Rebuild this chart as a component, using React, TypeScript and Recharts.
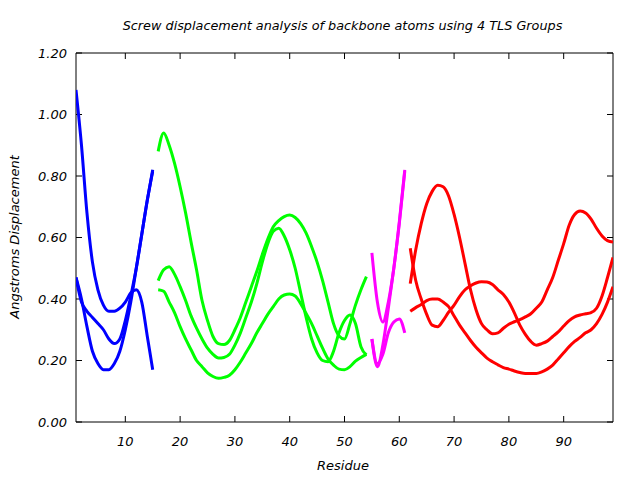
import { LineChart, Line, XAxis, YAxis, ReferenceArea, ReferenceLine } from 'recharts';

// TLS group 1 (blue), residues 1-15
const blueStart = 1;
const blueA = [1.08, 0.9, 0.68, 0.52, 0.43, 0.38, 0.36, 0.36, 0.37, 0.39, 0.42, 0.43, 0.39, 0.28, 0.17];
const blueB = [0.47, 0.4, 0.31, 0.23, 0.19, 0.17, 0.17, 0.19, 0.23, 0.3, 0.39, 0.5, 0.61, 0.72, 0.82];
const blueC = [0.47, 0.39, 0.36, 0.34, 0.32, 0.3, 0.27, 0.255, 0.27, 0.33, 0.41, 0.5, 0.61, 0.72, 0.815];

// TLS group 2 (green), residues 16-54
const greenStart = 16;
const greenA = [
  0.88, 0.94, 0.9, 0.84, 0.765, 0.68, 0.585, 0.495, 0.395, 0.33, 0.278, 0.255, 0.252, 0.265,
  0.3, 0.34, 0.39, 0.44, 0.49, 0.545, 0.595, 0.635, 0.655, 0.668, 0.673, 0.665, 0.645, 0.614,
  0.57, 0.52, 0.46, 0.39, 0.32, 0.28, 0.27, 0.32, 0.38, 0.43, 0.473,
];
const greenB = [
  0.46, 0.495, 0.505, 0.48, 0.44, 0.395, 0.345, 0.305, 0.27, 0.24, 0.22, 0.208, 0.21, 0.22,
  0.25, 0.29, 0.34, 0.39, 0.45, 0.52, 0.58, 0.62, 0.63, 0.605, 0.56, 0.5, 0.42, 0.34, 0.27,
  0.225, 0.2, 0.196, 0.23, 0.29, 0.33, 0.348, 0.32, 0.245, 0.218,
];
const greenC = [
  0.43, 0.425, 0.39, 0.355, 0.31, 0.27, 0.235, 0.2, 0.18, 0.16, 0.148, 0.142, 0.145, 0.152,
  0.17, 0.195, 0.225, 0.255, 0.29, 0.32, 0.35, 0.375, 0.4, 0.413, 0.416, 0.41, 0.385, 0.353,
  0.32, 0.28, 0.24, 0.205, 0.185, 0.172, 0.17, 0.18, 0.198, 0.21, 0.22,
];

// TLS group 3 (magenta), residues 55-61
const magentaStart = 55;
const magentaA = [0.55, 0.39, 0.325, 0.39, 0.5, 0.65, 0.82];
const magentaB = [0.27, 0.18, 0.25, 0.37, 0.5, 0.645, 0.815];
const magentaC = [0.27, 0.19, 0.22, 0.29, 0.325, 0.335, 0.29];

// TLS group 4 (red), residues 62-99
const redStart = 62;
const redA = [
  0.45, 0.56, 0.645, 0.71, 0.75, 0.77, 0.765, 0.735, 0.675, 0.6, 0.515, 0.43, 0.365, 0.32,
  0.3, 0.287, 0.29, 0.305, 0.318, 0.326, 0.333, 0.342, 0.352, 0.37, 0.39, 0.43, 0.47, 0.525,
  0.58, 0.64, 0.675, 0.686, 0.68, 0.66, 0.63, 0.605, 0.59, 0.585,
];
const redB = [
  0.565, 0.46, 0.4, 0.35, 0.315, 0.31, 0.33, 0.357, 0.38, 0.408, 0.43, 0.443, 0.452, 0.456,
  0.455, 0.447, 0.43, 0.415, 0.39, 0.355, 0.315, 0.285, 0.262, 0.25, 0.255, 0.263, 0.278,
  0.293, 0.312, 0.33, 0.342, 0.348, 0.352, 0.356, 0.37, 0.41, 0.47, 0.535,
];
const redC = [
  0.36, 0.372, 0.382, 0.395, 0.4, 0.4, 0.39, 0.375, 0.345, 0.315, 0.29, 0.265, 0.243, 0.225,
  0.208, 0.196, 0.186, 0.177, 0.172, 0.166, 0.161, 0.158, 0.158, 0.158, 0.163, 0.172, 0.185,
  0.205, 0.225, 0.245, 0.262, 0.275, 0.29, 0.3, 0.32, 0.35, 0.39, 0.44,
];

const xTicks = [10, 20, 30, 40, 50, 60, 70, 80, 90];
const yTicks = [0, 0.2, 0.4, 0.6, 0.8, 1.0, 1.2];
const xDomain = [1, 99];
const yDomain = [0, 1.2];

const series = [
  { key: 'b1', start: blueStart, values: blueA, color: '#0000ff' },
  { key: 'b2', start: blueStart, values: blueB, color: '#0000ff' },
  { key: 'b3', start: blueStart, values: blueC, color: '#0000ff' },
  { key: 'g1', start: greenStart, values: greenA, color: '#00ff00' },
  { key: 'g2', start: greenStart, values: greenB, color: '#00ff00' },
  { key: 'g3', start: greenStart, values: greenC, color: '#00ff00' },
  { key: 'm1', start: magentaStart, values: magentaA, color: '#ff00ff' },
  { key: 'm2', start: magentaStart, values: magentaB, color: '#ff00ff' },
  { key: 'm3', start: magentaStart, values: magentaC, color: '#ff00ff' },
  { key: 'r1', start: redStart, values: redA, color: '#ff0000' },
  { key: 'r2', start: redStart, values: redB, color: '#ff0000' },
  { key: 'r3', start: redStart, values: redC, color: '#ff0000' },
];

const rows: Record<string, number | null>[] = [];
for (let r = 1; r <= 99; r++) {
  const row: Record<string, number | null> = { residue: r };
  for (const s of series) {
    const i = r - s.start;
    row[s.key] = i >= 0 && i < s.values.length ? s.values[i] : null;
  }
  rows.push(row);
}

// plot box in pixels, used to turn a 6px tick length into data units
const PLOT_W = 537;
const PLOT_H = 369;
const TICK_LEN = 6;
const tickDx = (TICK_LEN * (xDomain[1] - xDomain[0])) / PLOT_W;
const tickDy = (TICK_LEN * (yDomain[1] - yDomain[0])) / PLOT_H;

const font = 'DejaVu Sans, sans-serif';
const labelProps = { fontSize: 13, fill: '#000', fontStyle: 'italic', fontFamily: font };

function LeftLabel(props: any) {
  return (
    <text x={Number(props.x)} y={Number(props.y)} dy="0.35em" textAnchor="end" {...labelProps}>
      {Number(props.payload.value).toFixed(2)}
    </text>
  );
}

function BottomLabel(props: any) {
  return (
    <text x={Number(props.x)} y={Number(props.y)} dy="0.75em" textAnchor="middle" {...labelProps}>
      {props.payload.value}
    </text>
  );
}

const textStyle = {
  position: 'absolute' as const,
  fontFamily: font,
  fontStyle: 'italic',
  fontSize: 13,
  color: '#000',
  whiteSpace: 'nowrap' as const,
};

export default function App() {
  return (
    <div style={{ position: 'absolute', left: 0, top: 0, width: 640, height: 480, background: '#fff' }}>
      <LineChart
        width={640}
        height={480}
        data={rows}
        margin={{ top: 53, right: 27, bottom: 28, left: 16 }}
      >
        <XAxis
          dataKey="residue"
          type="number"
          domain={xDomain}
          ticks={xTicks}
          allowDataOverflow
          height={30}
          axisLine={false}
          tickLine={false}
          tickSize={0}
          tickMargin={14}
          tick={<BottomLabel />}
        />
        <YAxis
          type="number"
          domain={yDomain}
          ticks={yTicks}
          allowDataOverflow
          width={60}
          axisLine={false}
          tickLine={false}
          tickSize={0}
          tickMargin={9}
          tick={<LeftLabel />}
        />
        <ReferenceArea
          x1={xDomain[0]}
          x2={xDomain[1]}
          y1={yDomain[0]}
          y2={yDomain[1]}
          fill="none"
          stroke="#000"
          strokeWidth={1}
          ifOverflow="visible"
        />
        {/* gnuplot style inward tick marks on all four sides */}
        {xTicks.map((t) => (
          <ReferenceLine
            key={`xb${t}`}
            segment={[{ x: t, y: yDomain[0] }, { x: t, y: yDomain[0] + tickDy }]}
            stroke="#000"
            strokeWidth={1}
            ifOverflow="visible"
          />
        ))}
        {xTicks.map((t) => (
          <ReferenceLine
            key={`xt${t}`}
            segment={[{ x: t, y: yDomain[1] }, { x: t, y: yDomain[1] - tickDy }]}
            stroke="#000"
            strokeWidth={1}
            ifOverflow="visible"
          />
        ))}
        {yTicks.map((v) => (
          <ReferenceLine
            key={`yl${v}`}
            segment={[{ x: xDomain[0], y: v }, { x: xDomain[0] + tickDx, y: v }]}
            stroke="#000"
            strokeWidth={1}
            ifOverflow="visible"
          />
        ))}
        {yTicks.map((v) => (
          <ReferenceLine
            key={`yr${v}`}
            segment={[{ x: xDomain[1], y: v }, { x: xDomain[1] - tickDx, y: v }]}
            stroke="#000"
            strokeWidth={1}
            ifOverflow="visible"
          />
        ))}
        {series.map((s) => (
          <Line
            key={s.key}
            dataKey={s.key}
            type="monotone"
            stroke={s.color}
            strokeWidth={3}
            dot={false}
            activeDot={false}
            connectNulls={false}
            isAnimationActive={false}
          />
        ))}
      </LineChart>
      <div style={{ ...textStyle, left: 0, width: 685, top: 18, fontSize: 12.8, textAlign: 'center' }}>
        Screw displacement analysis of backbone atoms using 4 TLS Groups
      </div>
      <div style={{ ...textStyle, left: 0, width: 686, top: 458, textAlign: 'center' }}>Residue</div>
      <div
        style={{
          ...textStyle,
          left: 14,
          top: 237,
          transform: 'translate(-50%, -50%) rotate(-90deg)',
        }}
      >
        Angstroms Displacement
      </div>
    </div>
  );
}
